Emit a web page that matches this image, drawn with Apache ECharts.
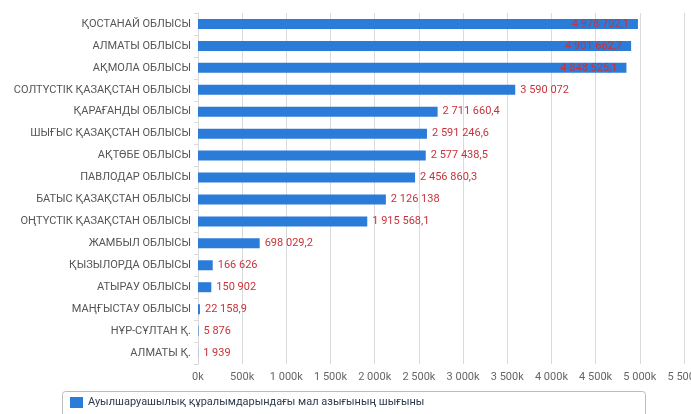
<!DOCTYPE html>
<html>
<head>
<meta charset="utf-8">
<script src="https://cdn.jsdelivr.net/npm/echarts@6/dist/echarts.min.js"></script>
<style>
  html, body { margin: 0; padding: 0; background: #fff; }
  #chart { width: 691px; height: 414px; }
</style>
</head>
<body>
<div id="chart"></div>
<script>
// Regions, top to bottom
const regions = [
  'ҚОСТАНАЙ ОБЛЫСЫ',
  'АЛМАТЫ ОБЛЫСЫ',
  'АҚМОЛА ОБЛЫСЫ',
  'СОЛТҮСТІК ҚАЗАҚСТАН ОБЛЫСЫ',
  'ҚАРАҒАНДЫ ОБЛЫСЫ',
  'ШЫҒЫС ҚАЗАҚСТАН ОБЛЫСЫ',
  'АҚТӨБЕ ОБЛЫСЫ',
  'ПАВЛОДАР ОБЛЫСЫ',
  'БАТЫС ҚАЗАҚСТАН ОБЛЫСЫ',
  'ОҢТҮСТІК ҚАЗАҚСТАН ОБЛЫСЫ',
  'ЖАМБЫЛ ОБЛЫСЫ',
  'ҚЫЗЫЛОРДА ОБЛЫСЫ',
  'АТЫРАУ ОБЛЫСЫ',
  'МАҢҒЫСТАУ ОБЛЫСЫ',
  'НҰР-СҰЛТАН Қ.',
  'АЛМАТЫ Қ.'
];

// Feed expenditure values
const feedCosts = [
  4978702.1, 4901662.7, 4848525.1, 3590072, 2711660.4, 2591246.6,
  2577438.5, 2456860.3, 2126138, 1915568.1, 698029.2, 166626,
  150902, 22158.9, 5876, 1939
];

// Number of largest bars whose value label sits inside the bar
const insideLabelCount = 3;

const seriesName = 'Ауылшаруашылық құралымдарындағы мал азығының шығыны';

const barColor = '#2b7bd9';
const labelColor = '#c8333b';
const font = 'Roboto, "Liberation Sans", Arial, sans-serif';

// 4978702.1 -> "4 978 702,1"
function fmtValue(v) {
  const parts = String(v).split('.');
  const intPart = parts[0].replace(/\B(?=(\d{3})+(?!\d))/g, ' ');
  return parts.length > 1 ? intPart + ',' + parts[1] : intPart;
}

// 1500000 -> "1 500k"
function fmtTick(v) {
  const k = Math.round(v / 1000);
  return String(k).replace(/\B(?=(\d{3})+(?!\d))/g, ' ') + 'k';
}

const barData = feedCosts.map((v, i) => ({
  value: v,
  label: i < insideLabelCount
    ? { position: 'insideRight', distance: 9 }
    : { position: 'right', distance: 5 }
}));

const chart = echarts.init(document.getElementById('chart'), null, { renderer: 'canvas' });

chart.setOption({
  animation: false,
  backgroundColor: '#ffffff',
  textStyle: { fontFamily: font },
  grid: {
    left: 198, right: 7, top: 13, bottom: 50,
    containLabel: false,
    outerBoundsMode: 'none'
  },
  xAxis: {
    type: 'value',
    min: 0,
    max: 5500000,
    interval: 500000,
    axisLine: { show: false },
    axisTick: { show: false },
    splitLine: { lineStyle: { color: '#d9d9d9', width: 1 } },
    axisLabel: {
      color: '#666',
      fontSize: 11,
      fontFamily: font,
      margin: 8,
      hideOverlap: false,
      formatter: fmtTick
    }
  },
  yAxis: {
    type: 'category',
    data: regions,
    inverse: true,
    axisLine: { show: true, lineStyle: { color: '#d9d9d9' } },
    axisTick: { show: true, length: 4, lineStyle: { color: '#d9d9d9' } },
    axisLabel: {
      color: '#555',
      fontSize: 11,
      fontFamily: font,
      margin: 7
    }
  },
  legend: {
    show: true,
    left: 70,
    top: 397,
    padding: 0,
    itemWidth: 13,
    itemHeight: 11,
    itemGap: 8,
    icon: 'rect',
    textStyle: { color: '#2e3a4d', fontSize: 11, fontFamily: font },
    data: [seriesName]
  },
  graphic: [{
    type: 'rect',
    silent: true,
    z: -1,
    shape: { x: 62.5, y: 391.5, width: 583, height: 40, r: 3 },
    style: { fill: '#ffffff', stroke: '#bcbcbc', lineWidth: 1 }
  }],
  series: [{
    name: seriesName,
    type: 'bar',
    barWidth: 10,
    data: barData,
    itemStyle: { color: barColor },
    label: {
      show: true,
      color: labelColor,
      fontSize: 11,
      fontFamily: font,
      formatter: p => fmtValue(p.value)
    }
  }]
});
</script>
</body>
</html>
